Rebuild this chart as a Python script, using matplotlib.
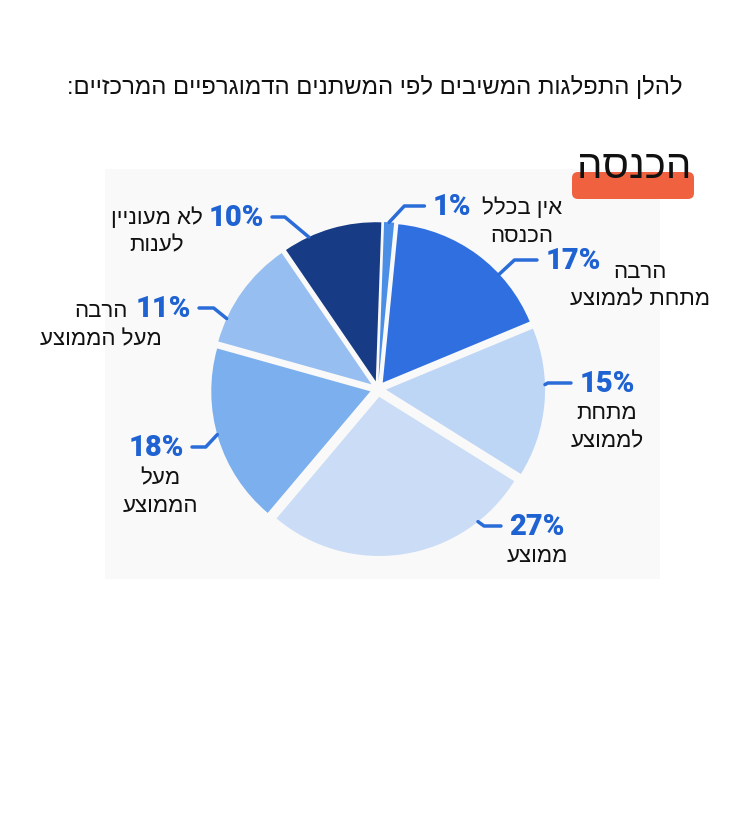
import matplotlib
matplotlib.use("Agg")
import matplotlib.pyplot as plt
from matplotlib.patches import FancyBboxPatch, Rectangle
import numpy as np

W, H = 749, 829
DPI = 100

# ---- data ----
categories = ["אין בכלל\nהכנסה", "הרבה\nמתחת לממוצע", "מתחת\nלממוצע", "ממוצע",
              "מעל\nהממוצע", "הרבה\nמעל הממוצע", "לא מעוניין\nלענות"]
values = [1, 17, 15, 27, 18, 11, 10]
pct_labels = ["1%", "17%", "15%", "27%", "18%", "11%", "10%"]
title_text = "להלן התפלגות המשיבים לפי המשתנים הדמוגרפיים המרכזיים:"
section_text = "הכנסה"

colors = ["#4a8ee6", "#2f6fe0", "#bdd6f6", "#cadcf6", "#7cafee", "#96bef0", "#183b86"]


def rtl(s):
    return s[::-1]


HEB = ["Liberation Sans", "DejaVu Sans"]

fig = plt.figure(figsize=(W / DPI, H / DPI), dpi=DPI)
fig.patch.set_facecolor("white")

# faint background panel
fig.patches.append(Rectangle((105, H - 580), 555, 410, transform=None,
                             facecolor="#f9f9f9", edgecolor="none", zorder=-5))

# ---- pie ----
cx, cy, R = 378, H - 390, 153
L = 1.3
side = 2 * L * R
ax = fig.add_axes([(cx - side / 2) / W, (cy - side / 2) / H, side / W, side / H])
ax.set_zorder(2)
ax.set_xlim(-L, L)
ax.set_ylim(-L, L)
ax.set_aspect("equal")
ax.axis("off")
ax.patch.set_alpha(0)

wedges, _ = ax.pie(values, colors=colors, startangle=88, counterclock=False,
                   explode=[0.05] * len(values), radius=1.0,
                   wedgeprops=dict(edgecolor="none"))

# anchor positions along each wedge (fraction from wedge start going clockwise)
anchor_frac = [0.5, 0.67, 0.38, 0.2, 0.52, 0.22, 0.26]
# percent text centres (figure pixels) and leader angles
pct_pos = [(452, H - 207), (573, H - 261), (607, H - 384), (537, H - 527),
           (156, H - 448), (163, H - 309), (236, H - 218)]
lead_ang = [47, 43, 30, -36, 47, -39, 140]
cat_pos = [(522, H - 222), (640, H - 286), (607, H - 428), (537, H - 557),
           (160, H - 493), (101, H - 326), (157, H - 232)]
LINE = 28

blue = "#1f62d2"
for w, fr, pp, ang, lab, cat, cp in zip(wedges, anchor_frac, pct_pos, lead_ang,
                                        pct_labels, categories, cat_pos):
    t1, t2 = w.theta1, w.theta2
    a = np.deg2rad(t2 - fr * (t2 - t1))
    x = w.center[0] + w.r * np.cos(a)
    y = w.center[1] + w.r * np.sin(a)
    ax.annotate(lab, xy=(x, y), xycoords="data", xytext=pp,
                textcoords="figure pixels", ha="center", va="center",
                fontsize=21, fontweight="black", family=["Roboto", "DejaVu Sans"],
                color=blue, annotation_clip=False,
                arrowprops=dict(arrowstyle="-", color="#2a6cd8", lw=2.5,
                                shrinkA=4, shrinkB=0,
                                connectionstyle=f"angle,angleA=0,angleB={ang},rad=0"))
    lines = cat.split("\n")
    n = len(lines)
    for i, ln in enumerate(lines):
        yy = cp[1] + (n - 1) / 2 * LINE - i * LINE
        fig.text(cp[0] / W, yy / H, rtl(ln), ha="center", va="center",
                 fontsize=16, family=HEB, color="#111111")

# ---- title ----
fig.text(375 / W, (H - 87) / H, rtl(title_text), ha="center", va="center",
         fontsize=17.2, family=HEB, color="#111111")

# orange brush + section label
fig.patches.append(FancyBboxPatch((572, H - 200), 122, 27, transform=None,
                                  boxstyle="round,pad=0,rounding_size=6",
                                  facecolor="#f0623f", edgecolor="none", zorder=1))
fig.text(634 / W, (H - 167) / H, rtl(section_text), ha="center", va="center",
         fontsize=29, family=HEB, color="#111111", zorder=3)

fig.savefig("out.png", dpi=DPI, facecolor="white")
